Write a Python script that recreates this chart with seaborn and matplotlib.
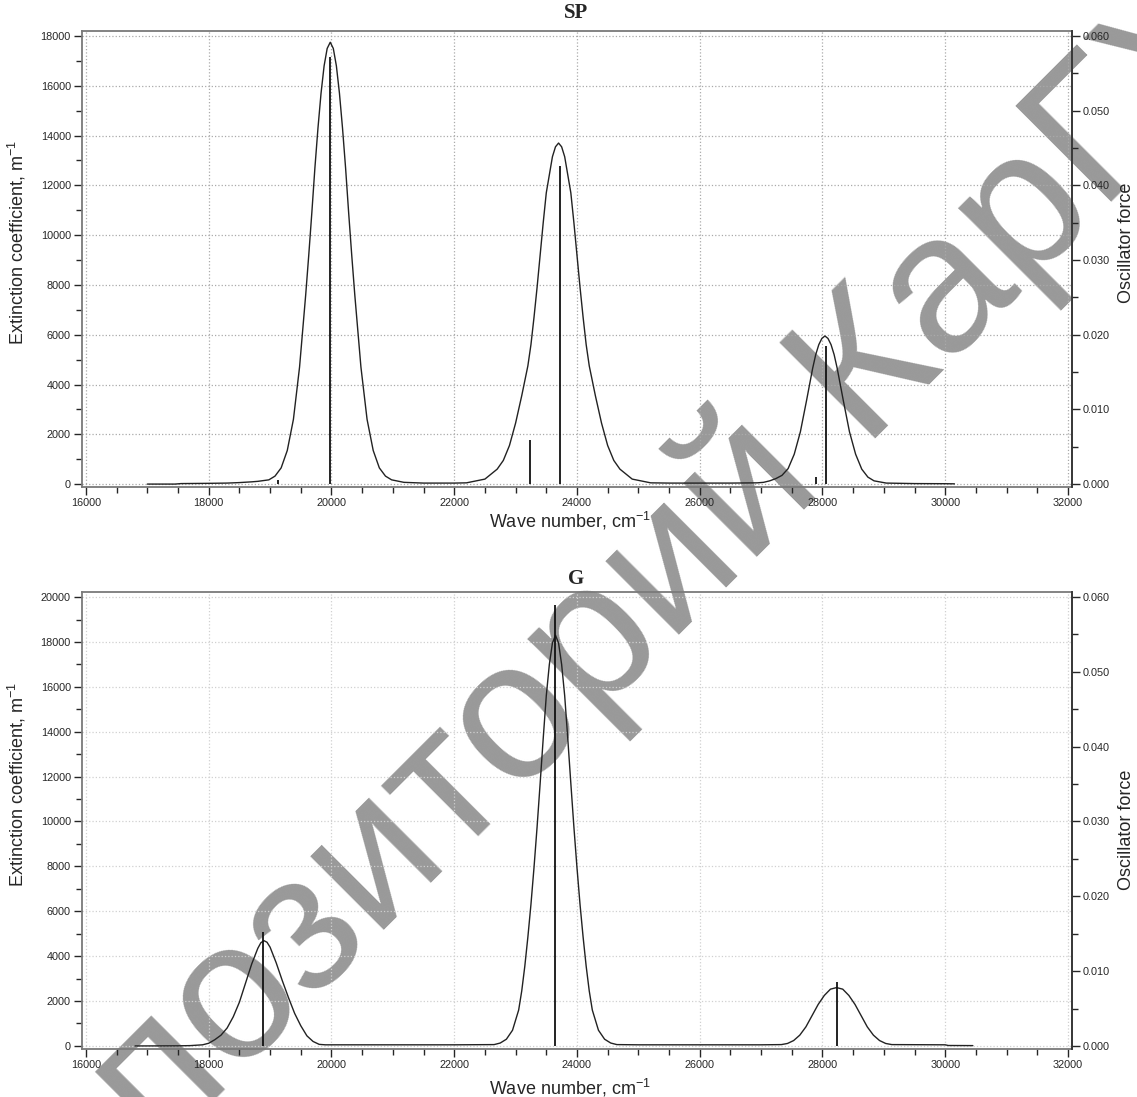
import matplotlib
matplotlib.use('Agg')
import pandas as pd
import matplotlib.pyplot as plt
import matplotlib.ticker as ticker
import seaborn as sns

# ---- SP spectrum ----
sp_x = [17000, 17450, 17550, 18000, 18300, 18500, 18700, 18800, 18980, 19080, 19180, 19280,
        19380, 19480, 19580, 19630, 19680, 19730, 19780, 19830, 19880, 19930, 19980, 20030,
        20080, 20130, 20180, 20230, 20280, 20330, 20380, 20480, 20580, 20680, 20780, 20880,
        20980, 21180, 21500, 22000, 22200, 22500, 22700, 22800, 22900, 23000, 23100, 23200,
        23250, 23300, 23350, 23400, 23450, 23500, 23600, 23650, 23700, 23750, 23800, 23900,
        23950, 24000, 24050, 24100, 24150, 24200, 24300, 24400, 24500, 24600, 24700, 24900,
        25200, 25500, 26000, 26500, 26940, 27040, 27140, 27240, 27340, 27440, 27540, 27640,
        27740, 27790, 27840, 27890, 27940, 27990, 28040, 28090, 28140, 28190, 28240, 28290,
        28340, 28440, 28540, 28640, 28740, 28840, 29040, 29500, 30000, 30150]
sp_y = [0, 0, 20, 30, 40, 60, 90, 110, 170, 320, 650, 1350,
        2600, 4700, 7600, 9200, 10900, 12700, 14300, 15700, 16800, 17500, 17750, 17500,
        16800, 15700, 14300, 12700, 10900, 9200, 7600, 4700, 2600, 1350, 650, 320,
        170, 70, 40, 40, 50, 200, 600, 950, 1550, 2450, 3550, 4750,
        5600, 6700, 7900, 9200, 10500, 11700, 13150, 13550, 13700, 13550, 13150, 11700,
        10500, 9200, 7900, 6700, 5600, 4750, 3550, 2450, 1550, 950, 600, 200,
        50, 40, 40, 40, 50, 70, 130, 220, 350, 620, 1200, 2100,
        3350, 4000, 4650, 5200, 5600, 5850, 5950, 5850, 5600, 5200, 4650, 4000,
        3350, 2100, 1200, 600, 280, 130, 40, 20, 15, 10]
sp_stick_x = [19130, 19980, 23230, 23720, 27900, 28065]
sp_stick_f = [0.0005, 0.0572, 0.0059, 0.0426, 0.0009, 0.0185]

# ---- G spectrum ----
g_x = [16800, 17500, 17700, 17900, 18000, 18100, 18200, 18300, 18400, 18500, 18600, 18700,
       18800, 18850, 18900, 18950, 19000, 19100, 19200, 19300, 19400, 19500, 19600, 19700,
       19800, 19900, 21000, 22000, 22650, 22750, 22850, 22950, 23050, 23100, 23150, 23200,
       23250, 23300, 23350, 23400, 23450, 23500, 23550, 23600, 23650, 23700, 23750, 23800,
       23850, 23900, 23950, 24000, 24050, 24100, 24150, 24200, 24250, 24350, 24450, 24550,
       24650, 25000, 26000, 27000, 27330, 27430, 27530, 27630, 27730, 27830, 27930, 28030,
       28130, 28230, 28330, 28430, 28530, 28630, 28730, 28830, 28930, 29030, 29130, 30000,
       30050, 30450]
g_y = [0, 5, 15, 50, 120, 280, 480, 800, 1300, 1950, 2800, 3650,
       4350, 4600, 4690, 4620, 4400, 3700, 2900, 2150, 1450, 900, 450, 200,
       70, 50, 50, 50, 60, 130, 300, 700, 1600, 2450, 3550, 4850,
       6300, 7950, 9750, 11700, 13700, 15600, 17000, 17950, 18300, 17950, 17000, 15600,
       13700, 11700, 9750, 7950, 6300, 4850, 3550, 2450, 1600, 700, 300, 130,
       60, 50, 50, 50, 60, 110, 240, 480, 850, 1350, 1850, 2250,
       2530, 2600, 2530, 2250, 1850, 1350, 850, 480, 240, 110, 60, 50,
       20, 15]
g_stick_x = [18890, 23640, 28240]
g_stick_f = [0.0152, 0.0590, 0.0085]

x_ticks = list(range(16000, 32001, 2000))

sns.set_style('white')
plt.rcParams['font.family'] = ['Liberation Sans', 'DejaVu Sans']
plt.rcParams['mathtext.fontset'] = 'custom'
plt.rcParams['mathtext.rm'] = 'Liberation Sans'
plt.rcParams['mathtext.it'] = 'Liberation Sans:italic'

fig = plt.figure(figsize=(11.37, 10.97), dpi=100)

# watermark behind the plots
fig.text(0.521, 0.410, 'Репозиторий КарГУ', rotation=45, fontsize=142, color='#999999',
         ha='center', va='center', zorder=-1)


def draw_panel(rect, xs, ys, stick_x, stick_f, ymax, ylim, title, title_y, grid_col,
               xlab_y, ylab_y, rlab_y):
    ax = fig.add_axes(rect)
    ax.set_facecolor('none')
    df = pd.DataFrame({'wn': xs, 'ext': ys})
    sns.lineplot(data=df, x='wn', y='ext', ax=ax, color='#222222', linewidth=1.0,
                 estimator=None, sort=False)
    ax.set_xlim(15935, 32065)
    ax.set_ylim(*ylim)
    ax.set_xticks(x_ticks)
    ax.xaxis.set_minor_locator(ticker.MultipleLocator(500))
    ax.set_yticks(range(0, ymax + 1, 2000))
    ax.yaxis.set_minor_locator(ticker.MultipleLocator(1000))
    ax.tick_params(which='major', direction='out', length=6, width=1, labelsize=7.8, pad=2,
                   bottom=True, left=True)
    ax.tick_params(which='minor', direction='out', length=4, width=1, bottom=True, left=True)
    ax.grid(True, which='major', linestyle=':', color=grid_col, linewidth=0.9)
    for s in ax.spines.values():
        s.set_color('#7a7a7a')
        s.set_linewidth(1.3)
    ax.set_xlabel('Wave number, cm$^{-1}$', fontsize=13)
    ax.xaxis.set_label_coords(0.493, xlab_y)
    ax.set_ylabel('Extinction coefficient, m$^{-1}$', fontsize=13)
    ax.yaxis.set_label_coords(-0.055, ylab_y)

    ax2 = ax.twinx()
    ax2.vlines(stick_x, 0, stick_f, color='#111111', linewidth=1.3)
    f_top = 0.06 / ymax
    ax2.set_ylim(ylim[0] * f_top, ylim[1] * f_top)
    ax2.set_yticks([0, 0.01, 0.02, 0.03, 0.04, 0.05, 0.06])
    ax2.yaxis.set_major_formatter(ticker.FormatStrFormatter('%.3f'))
    ax2.yaxis.set_minor_locator(ticker.MultipleLocator(0.005))
    ax2.tick_params(which='major', direction='out', length=6, width=1, labelsize=7.8, pad=2,
                    right=True)
    ax2.tick_params(which='minor', direction='out', length=4, width=1, right=True)
    for side in ['top', 'left', 'bottom']:
        ax2.spines[side].set_visible(False)
    ax2.spines['right'].set_color('#333333')
    ax2.spines['right'].set_linewidth(1.3)
    ax2.set_ylabel('Oscillator force', fontsize=13)
    ax2.yaxis.set_label_coords(1.047, rlab_y)

    fig.text(0.507, title_y, title, fontsize=15, fontweight='bold', family='Liberation Serif',
             ha='center', va='center')
    return ax


draw_panel([0.0721, 0.556, 0.8707, 0.4157], sp_x, sp_y, sp_stick_x, sp_stick_f,
           18000, (-120, 18200), 'SP', 0.988, '#aaaaaa', -0.05, 0.537, 0.535)
draw_panel([0.0721, 0.0438, 0.8707, 0.4165], g_x, g_y, g_stick_x, g_stick_f,
           20000, (-134, 20223), 'G', 0.472, '#d0d0d0', -0.061, 0.578, 0.479)

fig.savefig('out.png', dpi=100)
